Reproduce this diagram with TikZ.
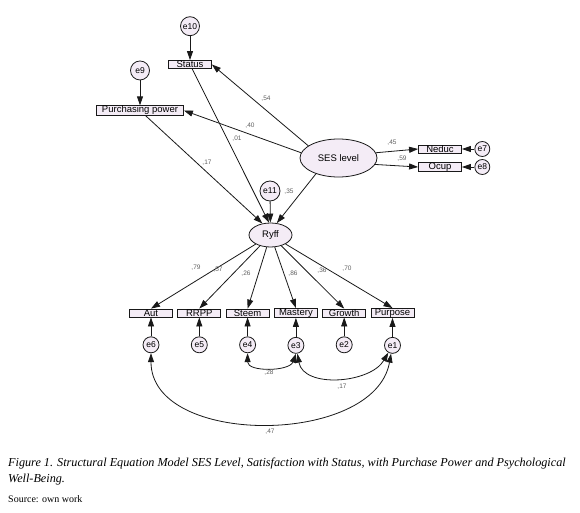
\documentclass[tikz,border=0pt]{standalone}
\usepackage{fontspec}
\setmainfont{Liberation Serif}
\setsansfont{Liberation Sans}
\usetikzlibrary{shapes.geometric, arrows.meta, positioning}
\definecolor{lilac}{RGB}{244, 236, 246}
\definecolor{ink}{RGB}{25, 25, 25}
\definecolor{coefgray}{RGB}{95, 95, 95}

\begin{document}
\begin{tikzpicture}[x=1pt, y=1pt,
        >={Triangle[length=9pt, width=6pt]},
        var/.style={draw=ink, fill=lilac, line width=0.8pt, minimum width=43pt, minimum height=8pt, inner sep=0.3pt, font=\sffamily\fontsize{9.5}{9.5}\selectfont},
        latent/.style={ellipse, draw=ink, fill=lilac, line width=0.8pt, inner sep=0pt, font=\sffamily\fontsize{9.5}{9.5}\selectfont},
        err/.style={circle, draw=ink, fill=lilac, line width=0.8pt, minimum size=16pt, inner sep=0pt, font=\sffamily\fontsize{8.5}{8.5}\selectfont},
        coef/.style={text=coefgray, inner sep=0pt, font=\sffamily\fontsize{6.5}{6.5}\selectfont},
        link/.style={->, draw=ink, line width=0.8pt}
    ]
    \useasboundingbox (0,0) rectangle (580,-513);

    % latent variables
    \node[latent, minimum width=77pt, minimum height=38pt] (ses) at (338.5,-158) {SES level};
    \node[latent, minimum width=43pt, minimum height=24pt] (ryff) at (270.5,-235) {Ryff};

    % observed variables, top
    \node[var] (status) at (190,-64.5) {Status};
    \node[var, minimum width=87pt] (pp) at (140,-110.5) {Purchasing power};
    \node[var] (neduc) at (440,-149) {Neduc};
    \node[var] (ocup) at (440,-167) {Ocup};

    % observed variables, bottom
    \node[var] (aut) at (151,-313) {Aut};
    \node[var, right=4.5pt of aut] (rrpp) {RRPP};
    \node[var, right=4.5pt of rrpp] (steem) {Steem};
    \node[var, right=4.5pt of steem] (mastery) {Mastery};
    \node[var, right=4.5pt of mastery] (growth) {Growth};
    \node[var, right=4.5pt of growth] (purpose) {Purpose};

    % errors
    \node[err, minimum size=19pt, above=24pt of status] (e10) {e10};
    \node[err, minimum size=19pt, above=25pt of pp] (e9) {e9};
    \node[err, minimum size=15pt, right=12.5pt of neduc] (e7) {e7};
    \node[err, minimum size=15pt, right=12.5pt of ocup] (e8) {e8};
    \node[err, minimum size=20pt] (e11) at (270,-191) {e11};
    \node[err, below=19pt of aut] (e6) {e6};
    \node[err, below=19pt of rrpp] (e5) {e5};
    \node[err, below=19pt of steem] (e4) {e4};
    \node[err, below=19pt of mastery] (e3) {e3};
    \node[err, below=19pt of growth] (e2) {e2};
    \node[err, below=19pt of purpose] (e1) {e1};

    % error paths
    \draw[link] (e10) -- (status);
    \draw[link] (e9) -- (pp);
    \draw[link] (e7) -- (neduc);
    \draw[link] (e8) -- (ocup);
    \draw[link] (e11) -- (ryff);
    \foreach \e/\v in {e6/aut, e5/rrpp, e4/steem, e3/mastery, e2/growth, e1/purpose}
        \draw[link] (\e) -- (\v);

    % structural paths
    \draw[link] (ses.158) -- (status.east);
    \draw[link] (ses.172) -- (pp.east);
    \draw[link] (ses.8) -- (neduc.west);
    \draw[link] (ses.-10) -- (ocup.west);
    \draw[link] (ses.215) -- (ryff.62);
    \draw[link] (status) -- (ryff.97);
    \draw[link] (pp) -- (ryff.125);
    \foreach \v in {aut, rrpp, steem, mastery, growth, purpose}
        \draw[link] (ryff) -- (\v.north);

    % covariances
    \draw[link, <->] (e4.south) to[out=-90, in=-110] (e3.south);
    \draw[link, <->] (e3.-80) to[out=-80, in=-120] (e1.-120);
    \draw[link, <->] (e6.south) to[out=-90, in=-100] (e1.-100);

    % estimates
    \node[coef] (c54) at (266,-99) {,54};
    \node[coef] (c40) at (250,-126) {,40};
    \node[coef] (c01) at (237,-139) {,01};
    \node[coef] (c17a) at (207,-163) {,17};
    \node[coef] (c35) at (289,-192) {,35};
    \node[coef] (c45) at (392,-143) {,45};
    \node[coef] (c59) at (402,-159) {,59};
    \node[coef] (c79) at (196,-268) {,79};
    \node[coef] (c57) at (218,-270) {,57};
    \node[coef] (c26) at (246,-274) {,26};
    \node[coef] (c86) at (293,-274) {,86};
    \node[coef] (c36) at (322,-271) {,36};
    \node[coef] (c70) at (347,-269) {,70};
    \node[coef] (c28) at (269,-373) {,28};
    \node[coef] (c17b) at (342,-387) {,17};
    \node[coef] (c47) at (270,-432) {,47};

    % caption
    \node[anchor=base west, inner sep=0pt, align=left, font=\itshape\fontsize{12.2}{16}\selectfont] (caption) at (8,-482)
        {Figure 1. Structural Equation Model SES Level, Satisfaction with Status, with Purchase Power and Psychological\\Well-Being.};
    \node[anchor=base west, inner sep=0pt, font=\fontsize{10}{12}\selectfont] (source) at (8,-502) {Source: own work};
\end{tikzpicture}
\end{document}
